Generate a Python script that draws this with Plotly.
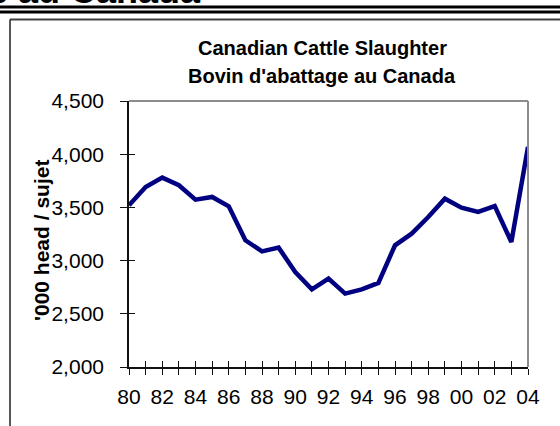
import plotly.graph_objects as go

# ---- data ----
years = list(range(1980, 2005))
slaughter = [3520, 3692, 3780, 3708, 3573, 3598, 3510, 3191, 3087, 3122,
             2893, 2730, 2831, 2690, 2730, 2790, 3144, 3253, 3410, 3582,
             3498, 3457, 3513, 3175, 4068]
x_tick_vals = years
x_tick_text = [f"{y % 100:02d}" if (y - 1980) % 2 == 0 else "" for y in years]
y_tick_vals = [2000, 2500, 3000, 3500, 4000, 4500]
y_tick_text = ["2,000", "2,500", "3,000", "3,500", "4,000", "4,500"]

title_line1 = "Canadian Cattle Slaughter"
title_line2 = "Bovin d'abattage au Canada"
y_title = "'000 head / sujet"
page_title = "Abattage de bovins au Canada"

W, H = 560, 426
L, R, T, B = 129, 32, 101, 59
PW, PH = W - L - R, H - T - B
FONT = "Arial, Liberation Sans, sans-serif"


def px(xp):
    return (xp - L) / PW


def py(yp):
    return (H - B - yp) / PH


fig = go.Figure()
fig.add_trace(go.Scatter(x=years, y=slaughter, mode="lines",
                         line=dict(color="#000080", width=4.5),
                         hoverinfo="skip", showlegend=False))
# invisible companion trace to carry the inside half of the cross ticks
fig.add_trace(go.Scatter(x=years, y=slaughter, mode="lines", xaxis="x2", yaxis="y2",
                         line=dict(color="rgba(0,0,0,0)", width=0),
                         hoverinfo="skip", showlegend=False))

axis_common = dict(showgrid=False, zeroline=False, tickcolor="#111", tickwidth=1.3)

fig.update_layout(
    width=W, height=H,
    margin=dict(l=L, r=R, t=T, b=B),
    paper_bgcolor="white", plot_bgcolor="white",
    font=dict(family=FONT, color="black"),
    showlegend=False,
    xaxis=dict(range=[1980, 2004], tickmode="array", tickvals=x_tick_vals,
               ticktext=x_tick_text, ticks="outside", ticklen=6,
               showline=True, linecolor="#111", linewidth=1.6,
               tickfont=dict(size=21, family=FONT, color="black"),
               ticklabelstandoff=4, **axis_common),
    yaxis=dict(range=[2000, 4500], tickmode="array", tickvals=y_tick_vals,
               ticktext=y_tick_text, ticks="outside", ticklen=7,
               showline=True, linecolor="#111", linewidth=1.6,
               tickfont=dict(size=21, family=FONT, color="black"),
               ticklabelstandoff=12, **axis_common),
    xaxis2=dict(overlaying="x", matches="x", range=[1980, 2004], tickmode="array",
                tickvals=x_tick_vals, ticks="inside", ticklen=6,
                showticklabels=False, showline=False, **axis_common),
    yaxis2=dict(overlaying="y", matches="y", range=[2000, 4500], tickmode="array",
                tickvals=y_tick_vals, ticks="inside", ticklen=6,
                showticklabels=False, showline=False, **axis_common),
)

shapes = [
    # gray top & right border of plot area
    dict(type="line", xref="paper", yref="paper", x0=0, x1=1, y0=1, y1=1,
         line=dict(color="#8c8c8c", width=2)),
    dict(type="line", xref="paper", yref="paper", x0=1, x1=1, y0=0, y1=1,
         line=dict(color="#8c8c8c", width=2)),
    # page double rule
    dict(type="line", xref="paper", yref="paper", x0=px(0), x1=px(W), y0=py(7), y1=py(7),
         line=dict(color="black", width=3)),
    dict(type="line", xref="paper", yref="paper", x0=px(0), x1=px(W), y0=py(12), y1=py(12),
         line=dict(color="black", width=3)),
    # outer chart frame
    dict(type="line", xref="paper", yref="paper", x0=px(10), x1=px(W + 5), y0=py(19.5), y1=py(19.5),
         line=dict(color="#404040", width=2)),
    dict(type="line", xref="paper", yref="paper", x0=px(10), x1=px(10), y0=py(19.5), y1=py(H + 5),
         line=dict(color="#202020", width=1.5)),
]
fig.update_layout(shapes=shapes)

annotations = [
    dict(text=title_line1, xref="paper", yref="paper", x=px(322), y=py(48),
         xanchor="center", yanchor="middle", showarrow=False,
         font=dict(size=20, family=FONT, color="black", weight="bold")),
    dict(text=title_line2, xref="paper", yref="paper", x=px(322), y=py(76),
         xanchor="center", yanchor="middle", showarrow=False,
         font=dict(size=20, family=FONT, color="black", weight="bold")),
    dict(text=y_title, xref="paper", yref="paper", x=px(41), y=py(241),
         xanchor="center", yanchor="middle", showarrow=False, textangle=-90,
         font=dict(size=21, family=FONT, color="black", weight="bold")),
    dict(text=page_title, xref="paper", yref="paper", x=px(203), y=py(13),
         xanchor="right", yanchor="bottom", showarrow=False,
         font=dict(size=36, family=FONT, color="black", weight="bold")),
]
fig.update_layout(annotations=annotations)

fig.write_html("out.html", config={"displayModeBar": False},
               post_script="document.body.style.margin='0';document.body.style.overflow='hidden';")
